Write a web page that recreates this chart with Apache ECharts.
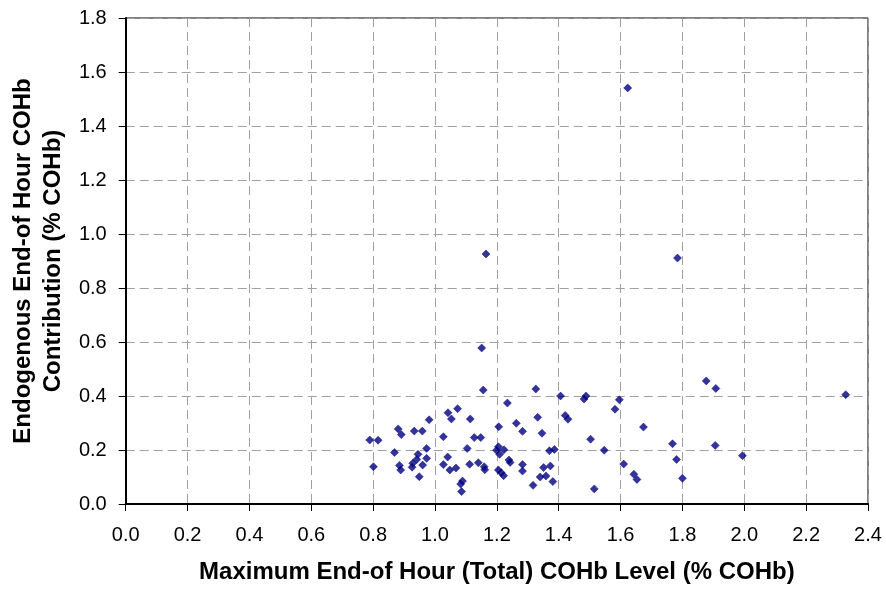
<!DOCTYPE html>
<html><head><meta charset="utf-8">
<script src="https://cdn.jsdelivr.net/npm/echarts@6/dist/echarts.min.js"></script>
<style>html,body{margin:0;padding:0;background:#fff}#c{width:886px;height:589px}</style>
</head><body><div id="c"></div>
<script>
const xValues = [1.151,1.156,1.073,1.042,1.053,1.234,0.981,1.114,0.881,0.891,0.933,0.959,1.027,1.127,1.148,1.206,1.263,1.283,0.789,0.816,0.869,0.973,0.945,0.941,0.928,0.926,0.960,0.973,0.949,0.885,0.889,0.801,1.041,1.027,1.048,1.068,1.104,1.112,1.140,1.159,1.161,1.089,1.083,1.086,1.205,1.199,1.223,1.209,1.239,1.243,1.283,1.283,1.205,1.214,1.222,
1.326,1.406,1.482,1.488,1.596,1.582,1.421,1.430,1.332,1.674,1.346,1.503,1.768,1.370,1.386,1.547,1.781,1.351,1.373,1.340,1.359,1.381,1.317,1.610,1.643,1.653,1.800,1.515,
1.877,1.908,2.328,1.906,1.994,1.623,1.165,1.784];
const yValues = [0.578,0.422,0.353,0.338,0.315,0.374,0.312,0.315,0.278,0.257,0.270,0.270,0.249,0.246,0.246,0.286,0.299,0.269,0.237,0.236,0.191,0.206,0.184,0.165,0.151,0.136,0.144,0.169,0.101,0.143,0.126,0.138,0.174,0.146,0.126,0.133,0.206,0.147,0.153,0.138,0.127,0.085,0.074,0.046,0.212,0.199,0.201,0.184,0.163,0.154,0.146,0.122,0.126,0.116,0.105,
0.426,0.400,0.389,0.400,0.386,0.351,0.328,0.314,0.321,0.285,0.262,0.240,0.223,0.197,0.202,0.199,0.165,0.135,0.141,0.100,0.104,0.083,0.069,0.148,0.110,0.091,0.095,0.056,
0.456,0.428,0.405,0.217,0.179,1.541,0.926,0.911];
const xTitle = 'Maximum End-of Hour (Total) COHb Level (% COHb)';
const yTitle = 'Endogenous End-of Hour COHb\nContribution (% COHb)';

const data = xValues.map((x,i)=>[x,yValues[i]]);
const chart = echarts.init(document.getElementById('c'));
const font = 'Liberation Sans, Arial, sans-serif';
chart.setOption({
  animation:false,
  grid:{left:124,right:18,top:18,bottom:85,show:true,borderColor:'#000',borderWidth:1,backgroundColor:'transparent'},
  xAxis:{type:'value',min:0,max:2.4,interval:0.2,
    name:xTitle,nameLocation:'middle',nameGap:56,
    nameTextStyle:{fontFamily:font,fontSize:24,fontWeight:'bold',color:'#000',lineHeight:24},
    axisLine:{lineStyle:{color:'#000',width:2}},
    axisTick:{show:true,length:7,lineStyle:{color:'#000'}},
    axisLabel:{fontFamily:font,fontSize:20,color:'#000',margin:21,formatter:v=>v.toFixed(1)},
    splitLine:{show:true,lineStyle:{color:'#a0a0a0',type:[9,5]}}},
  yAxis:{type:'value',min:0,max:1.8,interval:0.2,
    name:yTitle,nameLocation:'middle',nameGap:56,
    nameTextStyle:{fontFamily:font,fontSize:24,fontWeight:'bold',color:'#000',lineHeight:30},
    axisLine:{show:true,lineStyle:{color:'#000',width:2}},
    axisTick:{show:true,length:7,lineStyle:{color:'#000'}},
    axisLabel:{fontFamily:font,fontSize:20,color:'#000',margin:19,formatter:v=>v.toFixed(1)},
    splitLine:{show:true,lineStyle:{color:'#a0a0a0',type:[9,5]}}},
  series:[{type:'scatter',data:data,symbol:'diamond',symbolSize:8,
    itemStyle:{color:'#000080',borderColor:'#000080',borderWidth:0.6}}]
});
</script></body></html>
